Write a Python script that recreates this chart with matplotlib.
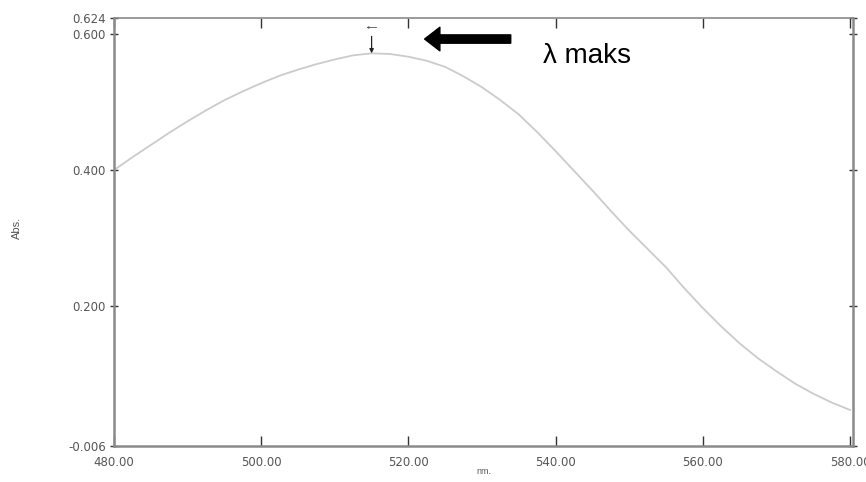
import numpy as np
import matplotlib
matplotlib.use("Agg")
import matplotlib.pyplot as plt

plt.rcParams["font.family"] = ["Liberation Sans", "DejaVu Sans"]

# spectrum (nm, absorbance)
wavelength = [480, 482.5, 485, 487.5, 490, 492.5, 495, 497.5, 500, 502.5,
              505, 507.5, 510, 512.5, 515, 517.5, 520, 522.5, 525, 527.5,
              530, 532.5, 535, 537.5, 540, 542.5, 545, 547.5, 550, 552.5,
              555, 557.5, 560, 562.5, 565, 567.5, 570, 572.5, 575, 577.5, 580]
absorbance = [0.400, 0.419, 0.437, 0.455, 0.472, 0.488, 0.503, 0.516, 0.528, 0.539,
              0.548, 0.556, 0.563, 0.569, 0.572, 0.571, 0.567, 0.561, 0.552, 0.538,
              0.522, 0.503, 0.482, 0.456, 0.428, 0.399, 0.370, 0.340, 0.311, 0.284,
              0.257, 0.226, 0.197, 0.170, 0.145, 0.123, 0.104, 0.086, 0.071, 0.058, 0.047]

x_ticks = [480, 500, 520, 540, 560, 580]
y_ticks = [-0.006, 0.200, 0.400, 0.600, 0.624]
peak_nm = 515.0
peak_abs = 0.572

fig = plt.figure(figsize=(8.66, 4.82), dpi=100)
ax = fig.add_axes([0.1316, 0.0747, 0.8534, 0.888])

ax.plot(wavelength, absorbance, color="#cbcbcb", linewidth=1.3)

ax.set_xlim(480, 580.4)
ax.set_ylim(-0.006, 0.624)
ax.set_xticks(x_ticks)
ax.set_xticklabels([f"{v:.2f}" for v in x_ticks], family="DejaVu Sans")
ax.set_yticks(y_ticks)
ax.set_yticklabels([f"{v:.3f}" for v in y_ticks], family="DejaVu Sans")

for s in ax.spines.values():
    s.set_color("#8a8a8a")
    s.set_linewidth(1.8)
ax.spines["top"].set_linewidth(1.2)

ax.tick_params(axis="both", direction="in", length=7, width=1, color="#333333",
               labelsize=8.5, labelcolor="#555555", top=True, right=True)
ax.tick_params(axis="x", pad=7)
ax.tick_params(axis="y", direction="inout", length=6, pad=3)

ax.set_xlabel("nm.", fontsize=6.5, color="#555555", labelpad=-1)
ax.set_ylabel("Abs.", fontsize=8, color="#555555")
ax.yaxis.set_label_coords(-0.125, 0.51)

# small peak marker
ax.annotate("", xy=(peak_nm, peak_abs), xytext=(peak_nm, peak_abs + 0.025),
            arrowprops=dict(arrowstyle="-|>", color="#222222", lw=0.9,
                            mutation_scale=6, shrinkA=0, shrinkB=0))
ax.annotate("", xy=(peak_nm - 0.7, peak_abs + 0.038), xytext=(peak_nm + 0.7, peak_abs + 0.038),
            arrowprops=dict(arrowstyle="-|>", color="#555555", lw=0.6,
                            mutation_scale=3, shrinkA=0, shrinkB=0))

# big arrow with label
ax.annotate("", xy=(522.2, 0.593), xytext=(533.9, 0.593),
            arrowprops=dict(facecolor="black", edgecolor="black", width=6,
                            headwidth=17, headlength=11, shrink=0))
ax.text(538.3, 0.568, "λ maks", fontsize=20, color="black", va="center", ha="left")

fig.savefig("out.png", dpi=100)
